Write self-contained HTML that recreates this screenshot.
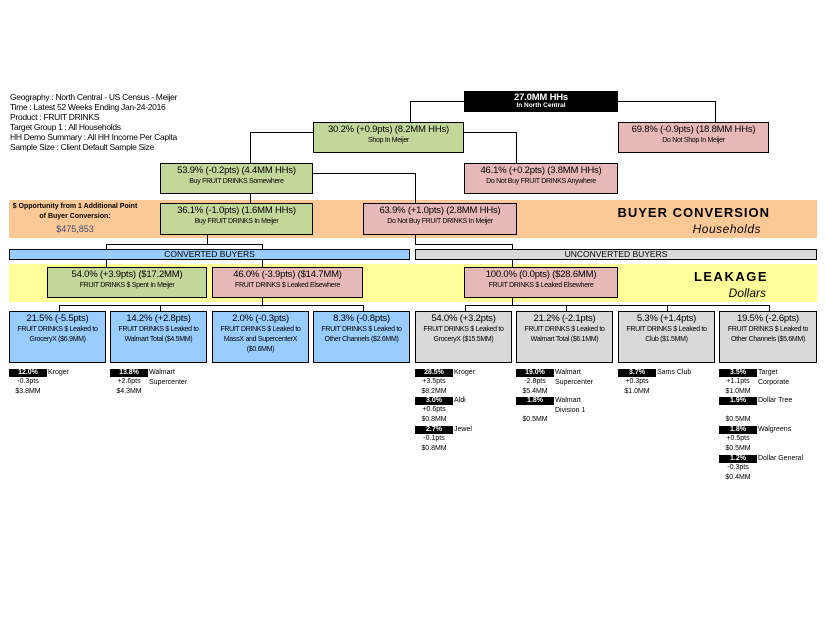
<!DOCTYPE html>
<html><head><meta charset="utf-8"><style>
body{margin:0;width:825px;height:638px;background:#fff;position:relative;overflow:hidden;font-family:"Liberation Sans",Arial,sans-serif;color:#000}
div{position:absolute;box-sizing:border-box}
.b div{position:static}
.b{border:1.5px solid #000;text-align:center;line-height:1}
.t{font-size:9.5px;margin-top:2px;letter-spacing:-0.2px}
.s{font-size:7px;margin-top:2px;letter-spacing:-0.3px}
.g{background:#c4d79b}.p{background:#e6b8b7}.bl{background:#99ccff}.gr{background:#d9d9d9}
.h{background:#000}.v{background:#000}
.k{background:#000;color:#fff;font-size:7px;font-weight:bold;text-align:center;width:38px;height:8px;line-height:8px}
.n{font-size:7px;line-height:10px}
.m{font-size:7px;text-align:center;width:38px}
.hd{font-size:8.5px;line-height:10px;letter-spacing:-0.3px}
.c .t{font-size:9.5px}
.c .s{font-size:7px;line-height:10px;margin-top:1px}
</style></head><body>
<div class="hd" style="left:10px;top:92px">Geography : North Central - US Census - Meijer<br>Time : Latest 52 Weeks Ending Jan-24-2016<br>Product : FRUIT DRINKS<br>Target Group 1 : All Households<br>HH Demo Summary : All HH Income Per Capita<br>Sample Size : Client Default Sample Size</div>

<!-- bands -->
<div style="left:9px;top:200px;width:808px;height:38px;background:#fcc896"></div>
<div style="left:9px;top:264px;width:808px;height:38px;background:#ffff99"></div>
<div style="left:10px;top:202px;width:130px;text-align:center;font-size:7px;font-weight:bold;line-height:10px">$ Opportunity from 1 Additional Point<br>of Buyer Conversion:</div>
<div style="left:10px;top:224px;width:130px;text-align:center;font-size:9px;color:#3a4a7a">$475,853</div>
<div style="left:560px;top:205px;width:210px;text-align:right;font-size:13px;font-weight:bold;letter-spacing:1px">BUYER CONVERSION</div>
<div style="left:560px;top:222px;width:201px;text-align:right;font-size:12px;font-style:italic;letter-spacing:0.5px">Households</div>
<div style="left:560px;top:269px;width:208px;text-align:right;font-size:13px;font-weight:bold;letter-spacing:1.5px">LEAKAGE</div>
<div style="left:560px;top:286px;width:206px;text-align:right;font-size:12px;font-style:italic">Dollars</div>

<!-- lines -->
<div class="h" style="left:410px;top:101px;width:55px;height:1px"></div>
<div class="v" style="left:410px;top:101px;width:1px;height:21px"></div>
<div class="h" style="left:618px;top:101px;width:98px;height:1px"></div>
<div class="v" style="left:715px;top:101px;width:1px;height:21px"></div>
<div class="h" style="left:250px;top:132px;width:64px;height:1px"></div>
<div class="v" style="left:250px;top:132px;width:1px;height:31px"></div>
<div class="h" style="left:464px;top:132px;width:53px;height:1px"></div>
<div class="v" style="left:516px;top:132px;width:1px;height:31px"></div>
<div class="h" style="left:313px;top:173px;width:103px;height:1px"></div>
<div class="v" style="left:415px;top:173px;width:1px;height:30px"></div>
<div class="v" style="left:250px;top:194px;width:1px;height:9px"></div>
<div class="v" style="left:207px;top:235px;width:1px;height:9px"></div>
<div class="h" style="left:106px;top:244px;width:157px;height:1px"></div>
<div class="v" style="left:106px;top:244px;width:1px;height:23px"></div>
<div class="v" style="left:262px;top:244px;width:1px;height:23px"></div>
<div class="v" style="left:415px;top:235px;width:1px;height:9px"></div>
<div class="h" style="left:415px;top:244px;width:98px;height:1px"></div>
<div class="v" style="left:512px;top:244px;width:1px;height:23px"></div>
<div class="v" style="left:262px;top:298px;width:1px;height:7px"></div>
<div class="h" style="left:59px;top:305px;width:305px;height:1px"></div>
<div class="v" style="left:59px;top:305px;width:1px;height:6px"></div>
<div class="v" style="left:160px;top:305px;width:1px;height:6px"></div>
<div class="v" style="left:363px;top:305px;width:1px;height:6px"></div>
<div class="v" style="left:512px;top:298px;width:1px;height:7px"></div>
<div class="h" style="left:465px;top:305px;width:305px;height:1px"></div>
<div class="v" style="left:465px;top:305px;width:1px;height:6px"></div>
<div class="v" style="left:566px;top:305px;width:1px;height:6px"></div>
<div class="v" style="left:667px;top:305px;width:1px;height:6px"></div>
<div class="v" style="left:769px;top:305px;width:1px;height:6px"></div>

<!-- top boxes -->
<div class="b" style="left:464px;top:91px;width:154px;height:21px;background:#000;color:#fff"><div class="t" style="font-weight:bold;margin-top:1px">27.0MM HHs</div><div style="font-size:6.5px;font-weight:bold">In North Central</div></div>
<div class="b g" style="left:313px;top:122px;width:151px;height:31px"><div class="t">30.2% (+0.9pts) (8.2MM HHs)</div><div class="s">Shop In Meijer</div></div>
<div class="b p" style="left:618px;top:122px;width:151px;height:31px"><div class="t">69.8% (-0.9pts) (18.8MM HHs)</div><div class="s">Do Not Shop In Meijer</div></div>
<div class="b g" style="left:160px;top:163px;width:153px;height:31px"><div class="t">53.9% (-0.2pts) (4.4MM HHs)</div><div class="s">Buy FRUIT DRINKS Somewhere</div></div>
<div class="b p" style="left:464px;top:163px;width:154px;height:31px"><div class="t">46.1% (+0.2pts) (3.8MM HHs)</div><div class="s">Do Not Buy FRUIT DRINKS Anywhere</div></div>
<div class="b g" style="left:160px;top:203px;width:153px;height:32px"><div class="t">36.1% (-1.0pts) (1.6MM HHs)</div><div class="s">Buy FRUIT DRINKS In Meijer</div></div>
<div class="b p" style="left:363px;top:203px;width:154px;height:32px"><div class="t">63.9% (+1.0pts) (2.8MM HHs)</div><div class="s">Do Not Buy FRUIT DRINKS In Meijer</div></div>

<div class="b bl" style="left:9px;top:249px;width:401px;height:11px;font-size:8.5px;line-height:9px">CONVERTED BUYERS</div>
<div class="b gr" style="left:415px;top:249px;width:402px;height:11px;font-size:8.5px;line-height:9px">UNCONVERTED BUYERS</div>

<div class="b g" style="left:47px;top:267px;width:160px;height:31px"><div class="t">54.0% (+3.9pts) ($17.2MM)</div><div class="s">FRUIT DRINKS $ Spent In Meijer</div></div>
<div class="b p" style="left:212px;top:267px;width:151px;height:31px"><div class="t">46.0% (-3.9pts) ($14.7MM)</div><div class="s">FRUIT DRINKS $ Leaked Elsewhere</div></div>
<div class="b p" style="left:464px;top:267px;width:154px;height:31px"><div class="t">100.0% (0.0pts) ($28.6MM)</div><div class="s">FRUIT DRINKS $ Leaked Elsewhere</div></div>

<!-- children -->
<div class="b bl c" style="left:9px;top:311px;width:97px;height:52px"><div class="t">21.5% (-5.5pts)</div><div class="s">FRUIT DRINKS $ Leaked to<br>GroceryX ($6.9MM)</div></div>
<div class="b bl c" style="left:110px;top:311px;width:97px;height:52px"><div class="t">14.2% (+2.8pts)</div><div class="s">FRUIT DRINKS $ Leaked to<br>Walmart Total ($4.5MM)</div></div>
<div class="b bl c" style="left:212px;top:311px;width:97px;height:52px"><div class="t">2.0% (-0.3pts)</div><div class="s">FRUIT DRINKS $ Leaked to<br>MassX and SupercenterX<br>($0.6MM)</div></div>
<div class="b bl c" style="left:313px;top:311px;width:97px;height:52px"><div class="t">8.3% (-0.8pts)</div><div class="s">FRUIT DRINKS $ Leaked to<br>Other Channels ($2.6MM)</div></div>
<div class="b gr c" style="left:415px;top:311px;width:97px;height:52px"><div class="t">54.0% (+3.2pts)</div><div class="s">FRUIT DRINKS $ Leaked to<br>GroceryX ($15.5MM)</div></div>
<div class="b gr c" style="left:516px;top:311px;width:97px;height:52px"><div class="t">21.2% (-2.1pts)</div><div class="s">FRUIT DRINKS $ Leaked to<br>Walmart Total ($6.1MM)</div></div>
<div class="b gr c" style="left:618px;top:311px;width:97px;height:52px"><div class="t">5.3% (+1.4pts)</div><div class="s">FRUIT DRINKS $ Leaked to<br>Club ($1.5MM)</div></div>
<div class="b gr c" style="left:719px;top:311px;width:98px;height:52px"><div class="t">19.5% (-2.6pts)</div><div class="s">FRUIT DRINKS $ Leaked to<br>Other Channels ($5.6MM)</div></div>

<!-- sub items -->
<div class="k" style="left:9px;top:369px">12.0%</div><div class="n" style="left:48px;top:368px">Kroger</div><div class="m" style="left:9px;top:378px">-0.3pts</div><div class="m" style="left:9px;top:388px">$3.8MM</div>
<div class="k" style="left:110px;top:369px">13.8%</div><div class="n" style="left:149px;top:368px">Walmart<br>Supercenter</div><div class="m" style="left:110px;top:378px">+2.6pts</div><div class="m" style="left:110px;top:388px">$4.3MM</div>

<div class="k" style="left:415px;top:369px">28.5%</div><div class="n" style="left:454px;top:368px">Kroger</div><div class="m" style="left:415px;top:378px">+3.5pts</div><div class="m" style="left:415px;top:388px">$8.2MM</div>
<div class="k" style="left:415px;top:397px">3.0%</div><div class="n" style="left:454px;top:396px">Aldi</div><div class="m" style="left:415px;top:406px">+0.6pts</div><div class="m" style="left:415px;top:416px">$0.8MM</div>
<div class="k" style="left:415px;top:426px">2.7%</div><div class="n" style="left:454px;top:425px">Jewel</div><div class="m" style="left:415px;top:435px">-0.1pts</div><div class="m" style="left:415px;top:445px">$0.8MM</div>

<div class="k" style="left:516px;top:369px">19.0%</div><div class="n" style="left:555px;top:368px">Walmart<br>Supercenter</div><div class="m" style="left:516px;top:378px">-2.8pts</div><div class="m" style="left:516px;top:388px">$5.4MM</div>
<div class="k" style="left:516px;top:397px">1.8%</div><div class="n" style="left:555px;top:396px">Walmart<br>Division 1</div><div class="m" style="left:516px;top:416px">$0.5MM</div>

<div class="k" style="left:618px;top:369px">3.7%</div><div class="n" style="left:657px;top:368px">Sams Club</div><div class="m" style="left:618px;top:378px">+0.3pts</div><div class="m" style="left:618px;top:388px">$1.0MM</div>

<div class="k" style="left:719px;top:369px">3.5%</div><div class="n" style="left:758px;top:368px">Target<br>Corporate</div><div class="m" style="left:719px;top:378px">+1.1pts</div><div class="m" style="left:719px;top:388px">$1.0MM</div>
<div class="k" style="left:719px;top:397px">1.9%</div><div class="n" style="left:758px;top:396px">Dollar Tree</div><div class="m" style="left:719px;top:416px">$0.5MM</div>
<div class="k" style="left:719px;top:426px">1.8%</div><div class="n" style="left:758px;top:425px">Walgreens</div><div class="m" style="left:719px;top:435px">+0.5pts</div><div class="m" style="left:719px;top:445px">$0.5MM</div>
<div class="k" style="left:719px;top:455px">1.2%</div><div class="n" style="left:758px;top:454px">Dollar General</div><div class="m" style="left:719px;top:464px">-0.3pts</div><div class="m" style="left:719px;top:474px">$0.4MM</div>
</body></html>
